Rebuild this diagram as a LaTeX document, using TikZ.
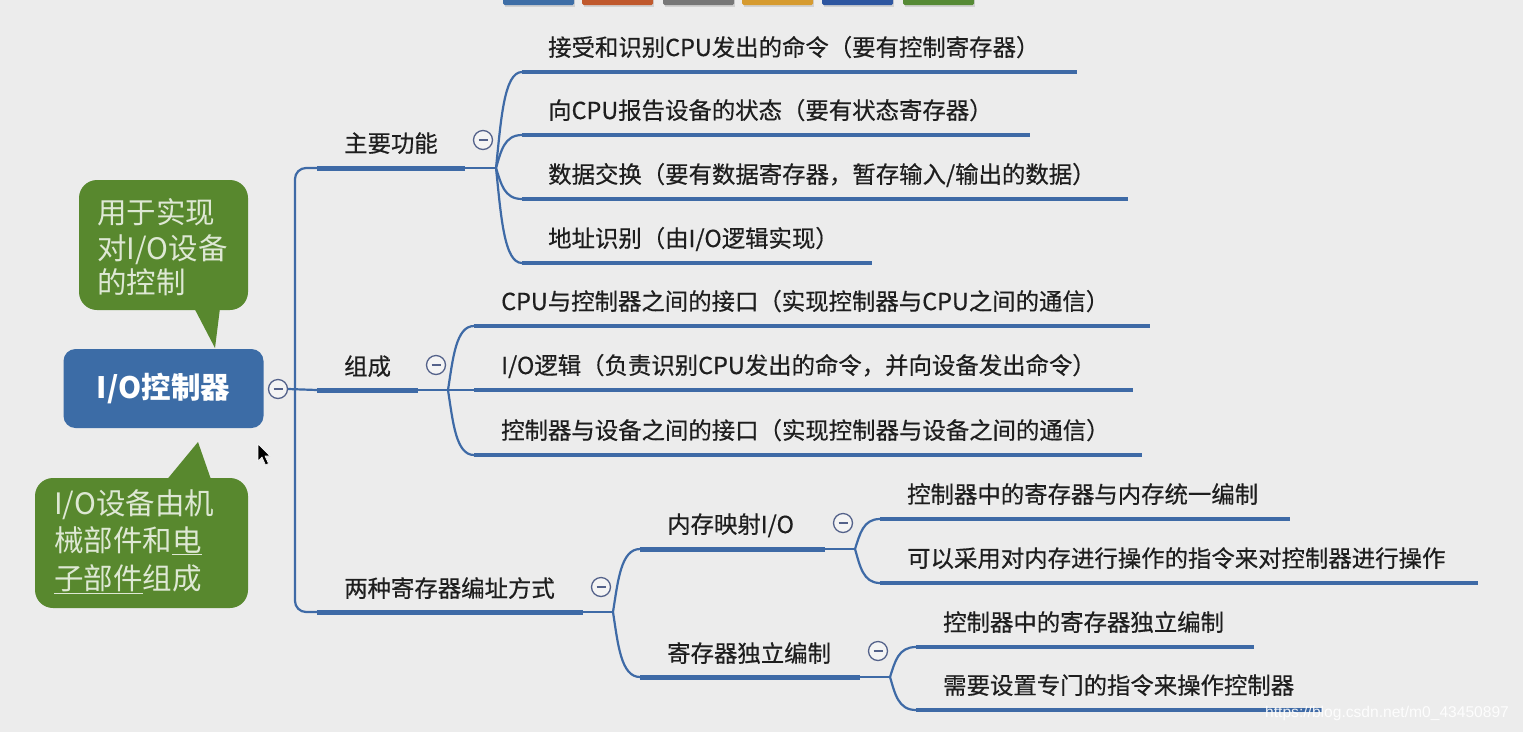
\documentclass[tikz,border=0pt]{standalone}
\usepackage{fontspec}
\setmainfont{Noto Sans CJK SC}
\newfontfamily\medfont{Noto Sans CJK SC}[FakeBold=0.5]
\newfontfamily\wmfont{Liberation Sans}
\usetikzlibrary{calc}
\definecolor{bg}{RGB}{236,236,236}
\definecolor{lnblue}{RGB}{62,106,166}
\definecolor{rootblue}{RGB}{60,108,166}
\definecolor{calgreen}{RGB}{88,136,46}
\definecolor{caltext}{RGB}{222,232,212}
\definecolor{txt}{RGB}{30,30,30}
\definecolor{togc}{RGB}{84,98,138}
\definecolor{barA}{RGB}{62,110,166}
\definecolor{barB}{RGB}{192,89,45}
\definecolor{barC}{RGB}{119,119,119}
\definecolor{barD}{RGB}{214,155,48}
\definecolor{barE}{RGB}{46,86,160}
\definecolor{barF}{RGB}{86,138,53}
\begin{document}
\begin{tikzpicture}[x=1pt,y=-1pt,line join=round,
  conn/.style={draw=lnblue,line width=2.2pt},
  ulone/.style={draw=lnblue,line width=5pt},
  ultwo/.style={draw=lnblue,line width=4pt},
  lbl/.style={anchor=base west,inner sep=0pt,text=txt,font=\medfont\fontsize{23.4}{28}\selectfont},
  caltxt/.style={anchor=base west,inner sep=0pt,text=caltext,font=\fontsize{29.5}{36}\selectfont},
  tog/.style={circle,draw=togc,fill=bg!60!white,line width=1.3pt,minimum size=19pt,inner sep=0pt,
    path picture={\draw[togc,line width=1.4pt]
      ([xshift=-4.5pt]path picture bounding box.center) -- ([xshift=4.5pt]path picture bounding box.center);}},
  bar/.style={rounded corners=1.5pt}
]
\useasboundingbox (0,0) rectangle (1523,732);
\fill[bg] (0,0) rectangle (1523,732);

% top colour bars
\foreach \xa/\c in {503/barA,582/barB,663/barC,742/barD,822/barE,903/barF}{
  \fill[black!18] (\xa+2,0) rectangle (\xa+72,7);
  \fill[\c,bar] (\xa,-3) rectangle (\xa+71,5);
}

% callouts
\fill[calgreen,rounded corners=18pt] (79,180) rectangle (248,310);
\fill[calgreen] (190,300) -- (215,348) -- (221,300) -- cycle;
\fill[calgreen,rounded corners=18pt] (35,478) rectangle (248,608);
\fill[calgreen] (160,488) -- (198,442) -- (214,488) -- cycle;
\node[caltxt] (ca1) at (97,223) {用于实现};
\node[caltxt] (ca2) at (97,259) {对I/O设备};
\node[caltxt] (ca3) at (97,293) {的控制};
\node[caltxt] (cb1) at (54,514) {I/O设备由机};
\node[caltxt] (cb2) at (54,551) {械部件和\underline{电}};
\node[caltxt] (cb3) at (54,589) {\underline{子部件}组成};

% root
\node[fill=rootblue,rounded corners=12pt,minimum width=200pt,minimum height=79pt,
  text=white,font=\fontsize{29.5}{34}\selectfont\bfseries] (root) at (163.5,388.5) {I/O控制器};
\node[tog] (troot) at (278,389) {};

% cursor
\filldraw[fill=black,draw=white,line width=0.6pt]
  (258,444) -- (258,461) -- (262,457) -- (265.5,465) -- (268.5,463.5) -- (265,456) -- (270,456) -- cycle;

% trunk
\coordinate (T1) at (317,168);
\coordinate (T2) at (317,390);
\coordinate (T3) at (317,612);
\draw[conn,rounded corners=11pt] (T1) -- (295,168) -- (295,612) -- (T3);
\draw[conn] (troot.east) -- (T2);

% level 1
\coordinate (E1) at (465,168); \coordinate (J1) at (496,168);
\coordinate (E2) at (418,390); \coordinate (J2) at (448,390);
\coordinate (E3) at (583,612); \coordinate (J3) at (613,612);
\draw[ulone] (T1) -- (E1); \draw[conn] (E1) -- (J1);
\draw[ulone] (T2) -- (E2); \draw[conn] (E2) -- (J2);
\draw[ulone] (T3) -- (E3); \draw[conn] (E3) -- (J3);
\node[lbl] (L1) at (344,152) {主要功能};
\node[lbl] (L2) at (344,375) {组成};
\node[lbl] (L3) at (344,597) {两种寄存器编址方式};
\node[tog] (t1) at (483,140) {};
\node[tog] (t2) at (436,365) {};
\node[tog] (t3) at (601,587) {};

\tikzset{branch/.style 2 args={insert path={
  (#1) .. controls ($(#1)!0.5!(#1 |- #2)+(5,0)$) and ($(#1 |- #2)+(8,0)$) .. (#2)}}}

% level 2 under 主要功能
\foreach \n/\y/\xe/\t in {
  a1/72/1077/{接受和识别CPU发出的命令（要有控制寄存器）},
  a2/135/1030/{向CPU报告设备的状态（要有状态寄存器）},
  a3/199/1128/{数据交换（要有数据寄存器，暂存输入/输出的数据）},
  a4/263/872/{地址识别（由I/O逻辑实现）}}{
  \coordinate (\n s) at (522,\y);
  \coordinate (\n e) at (\xe,\y);
  \draw[conn,branch={J1}{\n s}];
  \draw[ultwo] (\n s) -- (\n e);
  \node[lbl] (\n) at (548,\y-16) {\t};
}

% level 2 under 组成
\foreach \n/\y/\xe/\t in {
  b1/326/1150/{CPU与控制器之间的接口（实现控制器与CPU之间的通信）},
  b2/390/1133/{I/O逻辑（负责识别CPU发出的命令，并向设备发出命令）},
  b3/455/1142/{控制器与设备之间的接口（实现控制器与设备之间的通信）}}{
  \coordinate (\n s) at (474,\y);
  \coordinate (\n e) at (\xe,\y);
  \draw[conn,branch={J2}{\n s}];
  \draw[ultwo] (\n s) -- (\n e);
  \node[lbl] (\n) at (501,\y-16) {\t};
}

% level 2 under 两种寄存器编址方式
\coordinate (c1s) at (640,549); \coordinate (c1e) at (825,549); \coordinate (J4) at (855,549);
\coordinate (c2s) at (640,677); \coordinate (c2e) at (860,677); \coordinate (J5) at (890,677);
\draw[conn,branch={J3}{c1s}];
\draw[conn,branch={J3}{c2s}];
\draw[ulone] (c1s) -- (c1e); \draw[conn] (c1e) -- (J4);
\draw[ulone] (c2s) -- (c2e); \draw[conn] (c2e) -- (J5);
\node[lbl] (c1) at (667,533) {内存映射I/O};
\node[lbl] (c2) at (667,662) {寄存器独立编制};
\node[tog] (t4) at (843,523) {};
\node[tog] (t5) at (878,651) {};

% level 3
\foreach \n/\j/\xs/\y/\xe/\t in {
  d1/J4/880/519/1290/{控制器中的寄存器与内存统一编制},
  d2/J4/880/583/1478/{可以采用对内存进行操作的指令来对控制器进行操作},
  d3/J5/916/647/1254/{控制器中的寄存器独立编制},
  d4/J5/916/710/1322/{需要设置专门的指令来操作控制器}}{
  \coordinate (\n s) at (\xs,\y);
  \coordinate (\n e) at (\xe,\y);
  \draw[conn,branch={\j}{\n s}];
  \draw[ultwo] (\n s) -- (\n e);
  \node[lbl] (\n) at (\xs+27,\y-16) {\t};
}

% watermark
\node[anchor=west,inner sep=0pt,text=white,opacity=0.9,font=\wmfont\fontsize{15.6}{15.6}\selectfont]
  (wm) at (1265,713) {https://blog.csdn.net/m0\_43450897};
\end{tikzpicture}
\end{document}
